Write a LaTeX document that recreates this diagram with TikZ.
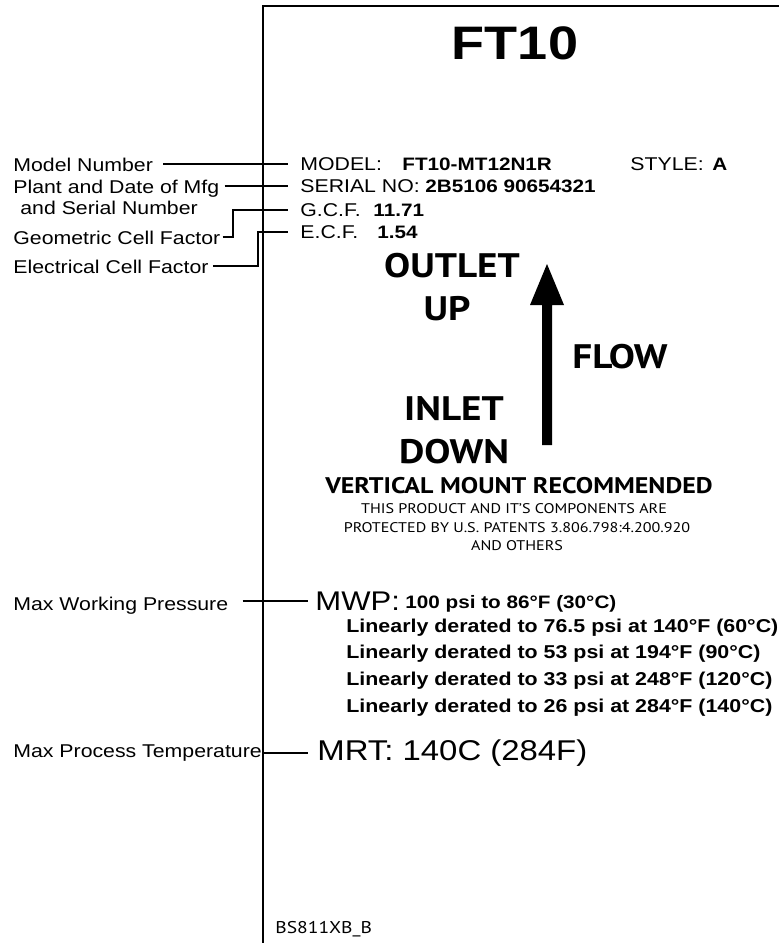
\documentclass[tikz,border=0pt]{standalone}
\usepackage{fontspec}
\newfontfamily\arialf{Liberation Sans}[FakeStretch=1.15]
\newfontfamily\humanf{PT Sans}[FakeStretch=1.15]

\newcommand{\tagfont}{\arialf\fontsize{18.5}{20}\selectfont}
\newcommand{\valfont}{\arialf\bfseries\fontsize{18}{20}\selectfont}
\newcommand{\bigfont}{\humanf\bfseries\fontsize{34}{36}\selectfont}

\tikzset{
  tag/.style={inner sep=0pt, anchor=base west, font=\tagfont},
  value/.style={inner sep=0pt, anchor=base west, font=\valfont},
  derate/.style={value, font=\arialf\bfseries\fontsize{18.6}{20}\selectfont},
  sign/.style={inner sep=0pt, anchor=base, font=\bigfont},
  fine/.style={inner sep=0pt, anchor=base, font=\humanf\fontsize{14}{16}\selectfont},
  lead/.style={line width=1.8pt},
}

\begin{document}
\begin{tikzpicture}[x=1pt,y=-1pt,thick]
        \useasboundingbox (0,0) rectangle (779,943);
        % label frame
        \coordinate (fr) at (263,6);
        \coordinate (gcfbend) at (233,0);
        \coordinate (ecfbend) at (258,0);
        \draw[line width=2.6pt] (779,6) -| (fr |- 0,943);

        \node[inner sep=0pt, anchor=base, font=\arialf\bfseries\fontsize{47}{50}\selectfont] (title) at (515,59) {FT10};

        % fields on the label
        \node[tag] (model) at (300,170) {MODEL:};
        \node[value] (modelno) at (402,170) {FT10-MT12N1R};
        \node[tag] (style) at (630,170) {STYLE:};
        \node[value] (styleno) at (712,170) {A};
        \node[tag] (serial) at (300,192) {SERIAL NO:};
        \node[value] (serialno) at (425,192) {2B5106 90654321};
        \node[tag] (gcf) at (300,216) {G.C.F.};
        \node[value] (gcfno) at (373,216) {11.71};
        \node[tag] (ecf) at (300,238) {E.C.F.};
        \node[value] (ecfno) at (377,238) {1.54};

        % callouts
        \node[tag] (lmodel) at (13,171) {Model Number};
        \node[tag] (lplant) at (13,193) {Plant and Date of Mfg};
        \node[tag] (lserial) at (20,214) {and Serial Number};
        \node[tag] (lgcf) at (13,244) {Geometric Cell Factor};
        \node[tag] (lecf) at (13,273) {Electrical Cell Factor};

        \draw[lead, shorten <=10pt, shorten >=12pt] (lmodel.east |- model.west) -- (model.west);
        \draw[lead, shorten <=5pt, shorten >=12pt] (lplant.east |- serial.west) -- (serial.west);
        \draw[lead] ([xshift=2pt]lgcf.east) -| (gcfbend |- gcf.west) -- ([xshift=-12pt]gcf.west);
        \draw[lead] ([xshift=4pt]lecf.east) -| (ecfbend |- ecf.west) -- ([xshift=-12pt]ecf.west);

        % flow direction
        \node[sign] (outlet) at (452,277) {OUTLET};
        \node[sign] (up) at (447,320) {UP};
        \node[sign] (flow) at (620,368) {FLOW};
        \node[sign] (inlet) at (454,420) {INLET};
        \node[sign] (down) at (454,463) {DOWN};
        \fill (542,445) -- (542,305) -- (530,305) -- (547,264) -- (564,305) -- (552,305) -- (552,445) -- cycle;

        \node[inner sep=0pt, anchor=base, font=\humanf\bfseries\fontsize{22.6}{24}\selectfont] (mount) at (519,493) {VERTICAL MOUNT RECOMMENDED};
        \node[fine] (pat1) at (514,513) {THIS PRODUCT AND IT’S COMPONENTS ARE};
        \node[fine] (pat2) at (517,532) {PROTECTED BY U.S. PATENTS 3.806.798:4.200.920};
        \node[fine] (pat3) at (517,550) {AND OTHERS};

        % pressure and temperature
        \node[inner sep=0pt, anchor=base west, font=\arialf\fontsize{27}{30}\selectfont] (mwp) at (315,610) {MWP:};
        \node[value] (mwp0) at (405,608) {100 psi to 86°F (30°C)};
        \node[derate] (mwp1) at (346,632) {Linearly derated to 76.5 psi at 140°F (60°C)};
        \node[derate] (mwp2) at (346,658) {Linearly derated to 53 psi at 194°F (90°C)};
        \node[derate] (mwp3) at (346,685) {Linearly derated to 33 psi at 248°F (120°C)};
        \node[derate] (mwp4) at (346,712) {Linearly derated to 26 psi at 284°F (140°C)};
        \node[inner sep=0pt, anchor=base west, font=\arialf\fontsize{28.6}{30}\selectfont] (mrt) at (317,760) {MRT: 140C (284F)};

        \node[tag] (lmwp) at (13,610) {Max Working Pressure};
        \node[tag] (lmrt) at (13,757) {Max Process Temperature};
        \draw[lead, shorten <=14pt, shorten >=7pt] (lmwp.east |- mwp.west) -- (mwp.west);
        \draw[lead, shorten >=9pt] (lmrt.east |- mrt.west) -- (mrt.west);

        \node[inner sep=0pt, anchor=base west, font=\humanf\fontsize{17}{18}\selectfont] (code) at (275,933) {BS811XB\_B};
\end{tikzpicture}
\end{document}
